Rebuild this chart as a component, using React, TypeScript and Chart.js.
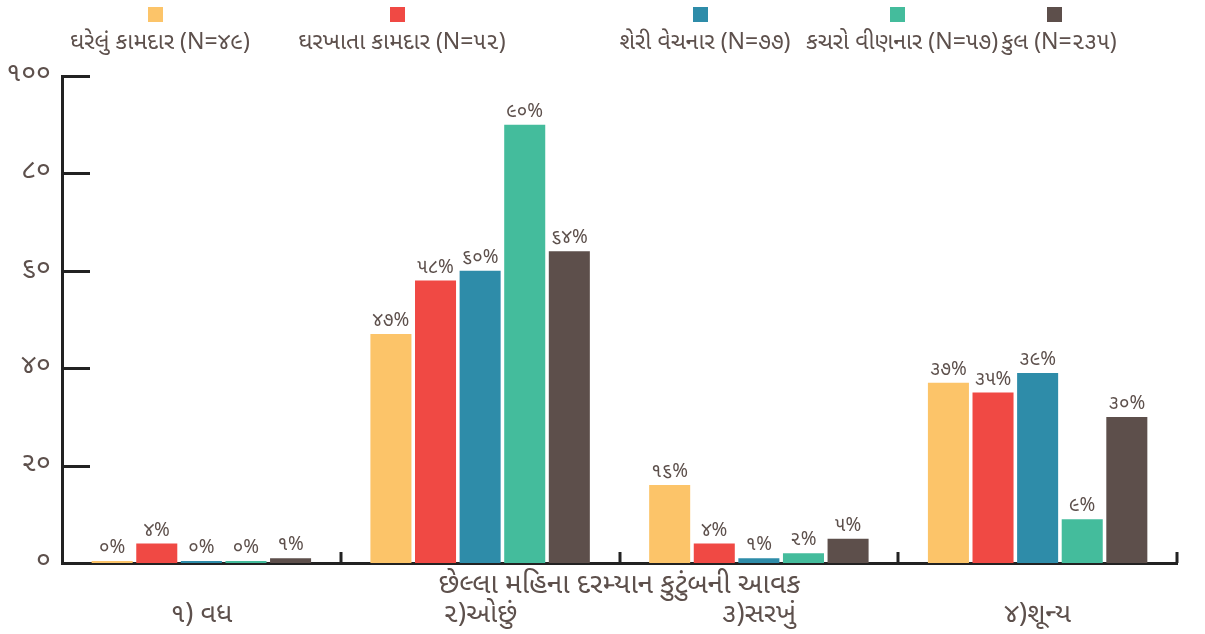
import React, { useEffect, useRef } from "react";
import { Chart, registerables } from "chart.js";

Chart.register(...registerables);

const categories = ["૧) વધ", "૨)ઓછું", "૩)સરખું", "૪)શૂન્ય"];
const seriesNames = [
  "ઘરેલું કામદાર (N=૪૯)",
  "ઘરખાતા કામદાર (N=૫૨)",
  "શેરી વેચનાર (N=૭૭)",
  "કચરો વીણનાર (N=૫૭)",
  "કુલ (N=૨૩૫)",
];
const domestic = [0, 47, 16, 37];
const homeBased = [4, 58, 4, 35];
const streetVendors = [0, 60, 1, 39];
const wastePickers = [0, 90, 2, 9];
const total = [1, 64, 5, 30];
const seriesValues = [domestic, homeBased, streetVendors, wastePickers, total];
const colors = ["#fcc469", "#f04944", "#2e8ca9", "#44bc9c", "#5d4f4b"];
const yTicks = [0, 20, 40, 60, 80, 100];
const xTitle = "છેલ્લા મહિના દરમ્યાન કુટુંબની આવક";

const guDigits = "૦૧૨૩૪૫૬૭૮૯";
const toGu = (n: number) => String(n).replace(/[0-9]/g, (d) => guDigits[+d]);

const FONT = "'Noto Sans Gujarati', 'Noto Sans', Lato, sans-serif";
const TEXT = "#5d504c";
const AXIS = "#222222";

// legend item text centres (layout)
const legendCenters = [160, 402, 705, 902, 1059];

const customPlugin = {
  id: "custom",
  afterDatasetsDraw(chart: any) {
    const ctx = chart.ctx;
    ctx.save();
    ctx.font = `19px ${FONT}`;
    ctx.fillStyle = TEXT;
    ctx.textAlign = "center";
    ctx.textBaseline = "bottom";
    chart.data.datasets.forEach((ds: any, di: number) => {
      const meta = chart.getDatasetMeta(di);
      meta.data.forEach((bar: any, i: number) => {
        ctx.fillText(toGu(ds.data[i]) + "%", bar.x, bar.y - 2);
      });
    });
    ctx.restore();
  },
  afterDraw(chart: any) {
    const ctx = chart.ctx;
    const { left, right, bottom } = chart.chartArea;
    const y = chart.scales.y;
    const x = chart.scales.x;
    ctx.save();
    ctx.strokeStyle = AXIS;
    ctx.lineWidth = 3;
    yTicks.forEach((v) => {
      if (v === 0) return;
      const py = Math.round(y.getPixelForValue(v)) + 0.5;
      ctx.beginPath();
      ctx.moveTo(left, py);
      ctx.lineTo(left + 28, py);
      ctx.stroke();
    });
    for (let i = 0; i < categories.length; i++) {
      const px = Math.round(x.getPixelForValue(i + 0.5));
      ctx.beginPath();
      ctx.moveTo(px, bottom);
      ctx.lineTo(px, bottom - 11);
      ctx.stroke();
    }
    ctx.fillStyle = TEXT;
    ctx.textAlign = "center";
    ctx.textBaseline = "middle";
    ctx.font = `28px ${FONT}`;
    ctx.fillText(xTitle, (left + right) / 2, bottom + 25);
    ctx.font = `23px ${FONT}`;
    seriesNames.forEach((name, i) => {
      const cx = legendCenters[i];
      ctx.fillStyle = colors[i];
      ctx.fillRect(cx - 12, 7, 15, 15);
      ctx.fillStyle = TEXT;
      ctx.fillText(name, cx, 45);
    });
    ctx.restore();
  },
};

export default function App() {
  const canvasRef = useRef<HTMLCanvasElement>(null);

  useEffect(() => {
    if (!canvasRef.current) return;
    const chart = new Chart(canvasRef.current, {
      type: "bar",
      data: {
        labels: categories,
        datasets: seriesNames.map((name, i) => ({
          label: name,
          data: seriesValues[i],
          backgroundColor: colors[i],
          borderWidth: 0,
          minBarLength: 2,
          categoryPercentage: 0.8,
          barPercentage: 0.92,
        })),
      },
      options: {
        animation: false,
        responsive: true,
        maintainAspectRatio: false,
        layout: { padding: { top: 76, right: 28, left: 0, bottom: 0 } },
        plugins: {
          legend: { display: false },
          tooltip: { enabled: false },
        },
        scales: {
          x: {
            grid: { display: false, drawTicks: false },
            border: { display: true, color: AXIS, width: 3 },
            ticks: {
              color: TEXT,
              font: { family: FONT, size: 27 },
              padding: 38,
              maxRotation: 0,
            },
            afterFit: (s: any) => {
              s.height = 71;
            },
          },
          y: {
            min: 0,
            max: 100,
            afterBuildTicks: (s: any) => {
              s.ticks = yTicks.map((v) => ({ value: v }));
            },
            grid: { display: false, drawTicks: false },
            border: { display: true, color: AXIS, width: 3 },
            ticks: {
              color: TEXT,
              font: { family: FONT, size: 27 },
              padding: 11,
              callback: (v: any) => toGu(Number(v)),
            },
            afterFit: (s: any) => {
              s.width = 62;
            },
          },
        },
      },
      plugins: [customPlugin],
    });
    return () => chart.destroy();
  }, []);

  return (
    <div style={{ position: "fixed", left: 0, top: 0, width: 1205, height: 634, background: "#fff" }}>
      <canvas ref={canvasRef} />
    </div>
  );
}
